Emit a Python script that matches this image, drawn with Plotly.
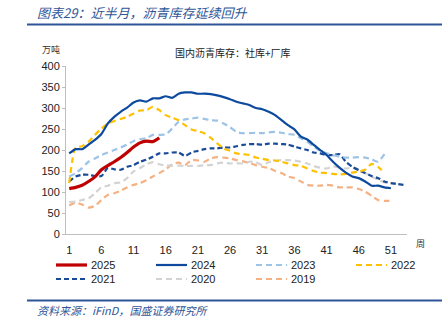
import plotly.graph_objects as go

# Weekly domestic asphalt inventory (social + factory), 10k tonnes
weeks_all = list(range(1, 54))

inv_2025 = [108, 111, 116, 125, 136, 153, 163, 172, 182, 194, 207, 217, 221, 220, 229]
inv_2024 = [192, 202, 202, 213, 224, 238, 263, 279, 291, 301, 313, 318, 315, 323, 323,
            328, 324, 334, 337, 337, 334, 334, 333, 330, 326, 321, 315, 311, 307, 300,
            297, 291, 283, 271, 259, 249, 232, 225, 212, 200, 188, 172, 158, 146, 137,
            133, 125, 115, 115, 111, 109]
inv_2023 = [137, 145, 157, 172, 180, 188, 194, 200, 206, 213, 221, 226, 228, 236, 236,
            237, 251, 267, 273, 275, 277, 274, 271, 270, 263, 254, 243, 240, 240, 241,
            240, 242, 243, 241, 238, 236, 228, 220, 208, 198, 192, 188, 184, 182, 182,
            183, 182, 178, 172, 190]
inv_2022 = [121, 206, 209, 220, 236, 251, 263, 269, 274, 279, 287, 294, 295, 303, 295,
            283, 277, 271, 259, 249, 245, 240, 229, 216, 204, 198, 192, 190, 188, 182,
            179, 176, 175, 172, 168, 164, 162, 156, 150, 146, 145, 143, 142, 143, 146,
            149, 153, 167, 160, 145]
inv_2021 = [125, 137, 141, 141, 138, 138, 157, 154, 153, 160, 164, 172, 177, 184, 192,
            192, 194, 194, 186, 194, 198, 202, 204, 204, 206, 206, 209, 212, 214, 214,
            213, 215, 215, 214, 213, 208, 204, 200, 194, 192, 188, 188, 190, 172, 160,
            152, 145, 138, 133, 125, 121, 119, 117]
inv_2020 = [76, 77, 81, 85, 97, 111, 115, 121, 123, 133, 149, 157, 166, 171, 166,
            163, 163, 163, 162, 162, 162, 164, 164, 168, 170, 168, 168, 168, 172, 171,
            164, 171, 174, 176, 176, 175, 172, 168, 162, 158, 156, 161, 158, 156, 157,
            153, 145, 137, 129, 123, 121, 121]
inv_2019 = [68, 75, 70, 63, 67, 81, 93, 97, 103, 111, 117, 121, 128, 137, 145,
            154, 166, 170, 164, 176, 175, 172, 180, 183, 182, 180, 176, 173, 169, 164,
            160, 157, 150, 145, 137, 133, 125, 117, 115, 115, 117, 115, 111, 111, 111,
            107, 101, 91, 81, 79, 79]

x_ticks = [1, 6, 11, 16, 21, 26, 31, 36, 41, 46, 51]

series = [
    ("2025", inv_2025, "#C00000", 3.2, "solid"),
    ("2024", inv_2024, "#0D4A9E", 2.2, "solid"),
    ("2023", inv_2023, "#9DC3E6", 2.2, "6px,4px"),
    ("2022", inv_2022, "#FFC000", 2.2, "6px,4px"),
    ("2021", inv_2021, "#1A4B97", 2.2, "5px,3px"),
    ("2020", inv_2020, "#D3D3D3", 2.2, "6px,4px"),
    ("2019", inv_2019, "#F4B183", 2.2, "6px,4px"),
]

# plot area geometry (pixels) used to place the decorations around it
L, T, W, H = 66, 66, 341, 168


def px(x):
    return (x - L) / W


def py(y):
    return (T + H - y) / H


fig = go.Figure()
# older years drawn first so the recent ones sit on top
for name, vals, color, width, dash in reversed(series):
    fig.add_trace(go.Scatter(
        x=weeks_all[:len(vals)], y=vals, name=name, mode="lines",
        line=dict(color=color, width=width, dash=dash, shape="spline", smoothing=0.6),
        showlegend=False,
    ))

font_num = "Liberation Sans, Arial, sans-serif"
font_cjk = "Noto Sans CJK SC, sans-serif"
blue = "#2F5597"

shapes = [
    dict(type="line", xref="paper", yref="paper",
         x0=px(27), x1=px(442), y0=py(24.5), y1=py(24.5),
         line=dict(color=blue, width=2)),
    dict(type="line", xref="paper", yref="paper",
         x0=px(27), x1=px(442), y0=py(300.5), y1=py(300.5),
         line=dict(color=blue, width=2)),
]
annotations = [
    dict(text="<i>图表29：近半月，沥青库存延续回升</i>", xref="paper", yref="paper",
         x=px(35), y=py(12), xanchor="left", yanchor="middle",
         showarrow=False, font=dict(family=font_cjk, size=13, color=blue)),
    dict(text="国内沥青库存：社库+厂库", xref="paper", yref="paper",
         x=px(233), y=py(52), xanchor="center", yanchor="middle",
         showarrow=False, font=dict(family=font_cjk, size=10, color="#222222")),
    dict(text="万吨", xref="paper", yref="paper",
         x=px(40), y=py(50), xanchor="left", yanchor="middle",
         showarrow=False, font=dict(family=font_cjk, size=9, color="#333333")),
    dict(text="周", xref="paper", yref="paper",
         x=px(420), y=py(243), xanchor="center", yanchor="middle",
         showarrow=False, font=dict(family=font_cjk, size=9, color="#333333")),
    dict(text="<i>资料来源：iFinD，国盛证券研究所</i>", xref="paper", yref="paper",
         x=px(35), y=py(310), xanchor="left", yanchor="middle",
         showarrow=False, font=dict(family=font_cjk, size=11, color=blue)),
]

# legend: four entries per row, swatch line followed by the year
for i, (name, vals, color, width, dash) in enumerate(series):
    col, row = i % 4, i // 4
    x0 = 56 + 100 * col
    yy = 265 + 14 * row
    shapes.append(dict(type="line", xref="paper", yref="paper",
                       x0=px(x0), x1=px(x0 + 31), y0=py(yy), y1=py(yy),
                       line=dict(color=color, width=width, dash=dash)))
    annotations.append(dict(text=name, xref="paper", yref="paper",
                            x=px(x0 + 33), y=py(yy), xanchor="left", yanchor="middle",
                            showarrow=False,
                            font=dict(family=font_num, size=11, color="#222222")))

fig.update_layout(
    width=444, height=326,
    margin=dict(l=L, r=444 - L - W, t=T, b=326 - T - H),
    paper_bgcolor="white", plot_bgcolor="white",
    showlegend=False,
    xaxis=dict(
        range=[0.5, 53.5], tickmode="array", tickvals=x_ticks,
        ticktext=[str(v) for v in x_ticks],
        showgrid=False, zeroline=False, showline=True, linecolor="#BFBFBF", linewidth=1,
        ticks="", ticklabelstandoff=6,
        tickfont=dict(family=font_num, size=11, color="#222222"),
    ),
    yaxis=dict(
        range=[0, 400], tickvals=list(range(0, 401, 50)),
        showgrid=False, zeroline=False, showline=True, linecolor="#BFBFBF", linewidth=1,
        ticks="outside", ticklen=3, tickcolor="#BFBFBF",
        tickfont=dict(family=font_num, size=11, color="#222222"),
    ),
    shapes=shapes,
    annotations=annotations,
)

fig.write_html("out.html")
